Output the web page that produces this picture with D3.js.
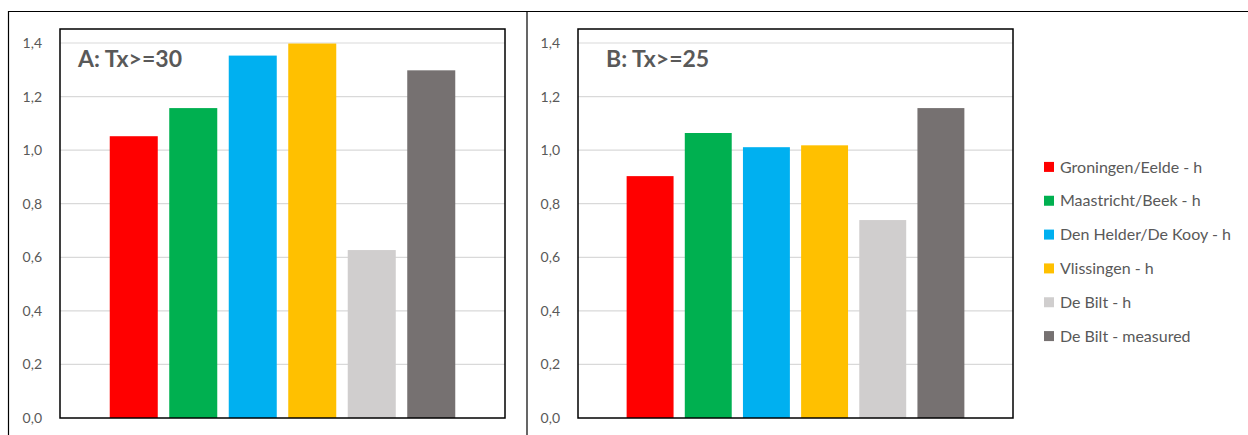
<!DOCTYPE html>
<html><head><meta charset="utf-8">
<script src="https://cdn.jsdelivr.net/npm/d3@7"></script>
<style>body{margin:0;background:#fff}svg{display:block}</style>
</head><body>
<script>
const series = ["Groningen/Eelde - h","Maastricht/Beek - h","Den Helder/De Kooy - h","Vlissingen - h","De Bilt - h","De Bilt - measured"];
const colors = ["#FF0000","#00B050","#00B0F0","#FFC000","#D0CECE","#767171"];
const valuesA = [1.052,1.157,1.353,1.398,0.627,1.298];
const valuesB = [0.903,1.064,1.011,1.018,0.739,1.157];
const yTicks = [0,0.2,0.4,0.6,0.8,1.0,1.2,1.4];
const panelTitles = ["A: Tx>=30","B: Tx>=25"];

(function(){
const W=1248,H=435;
const svg=d3.select("body").append("svg").attr("width",W).attr("height",H);
const font="Lato, 'Open Sans', sans-serif";
const txt="#595959";

svg.append("line").attr("x1",8).attr("x2",W).attr("y1",11.5).attr("y2",11.5).attr("stroke","#000").attr("stroke-width",1.2);
svg.append("line").attr("x1",8.5).attr("x2",8.5).attr("y1",11).attr("y2",H).attr("stroke","#000").attr("stroke-width",1.2);
svg.append("line").attr("x1",527).attr("x2",527).attr("y1",11).attr("y2",H).attr("stroke","#000").attr("stroke-width",1.2);

const panels=[
  {left:60,right:505,vals:valuesA,title:panelTitles[0],titleX:78},
  {left:578,right:1013,vals:valuesB,title:panelTitles[1],titleX:606}
];
const plotTop=29,plotBottom=418;
const y=d3.scaleLinear().domain([0,1.4]).range([plotBottom,43]);

panels.forEach(p=>{
  const g=svg.append("g");
  g.selectAll("line.grid").data(yTicks.slice(1)).join("line")
    .attr("x1",p.left).attr("x2",p.right)
    .attr("y1",d=>y(d)).attr("y2",d=>y(d))
    .attr("stroke","#D9D9D9").attr("stroke-width",1.2);
  const x=d3.scaleBand().domain(series).range([p.left,p.right]).paddingInner(0.193).paddingOuter(0.836);
  g.selectAll("rect.bar").data(p.vals).join("rect")
    .attr("x",(d,i)=>x(series[i])).attr("width",x.bandwidth())
    .attr("y",d=>y(d)).attr("height",d=>plotBottom-y(d))
    .attr("fill",(d,i)=>colors[i]);
  g.append("rect").attr("x",p.left).attr("y",plotTop).attr("width",p.right-p.left).attr("height",plotBottom-plotTop)
    .attr("fill","none").attr("stroke","#000").attr("stroke-width",1.5);
  const ax=d3.axisLeft(y).tickValues(yTicks).tickSize(0).tickPadding(18)
    .tickFormat(d=>d3.format(".1f")(d).replace(".",","));
  const a=g.append("g").attr("transform",`translate(${p.left},0)`).call(ax);
  a.select(".domain").remove();
  a.selectAll("text").attr("fill",txt).style("font-family",font).style("font-size","14px");
  g.append("text").attr("x",p.titleX).attr("y",67).text(p.title)
    .attr("fill",txt).style("font-family",font).style("font-size","23px").style("font-weight","bold");
});

const lg=svg.append("g");
const ly=d3.scaleBand().domain(series).range([150,353]);
series.forEach((s,i)=>{
  const cy=ly(s)+ly.bandwidth()/2;
  lg.append("rect").attr("x",1044).attr("y",cy-5).attr("width",10).attr("height",10).attr("fill",colors[i]);
  lg.append("text").attr("x",1060).attr("y",cy).attr("dy","0.35em").text(s)
    .attr("fill",txt).style("font-family",font).style("font-size","16px");
});
})();
</script>
</body></html>
